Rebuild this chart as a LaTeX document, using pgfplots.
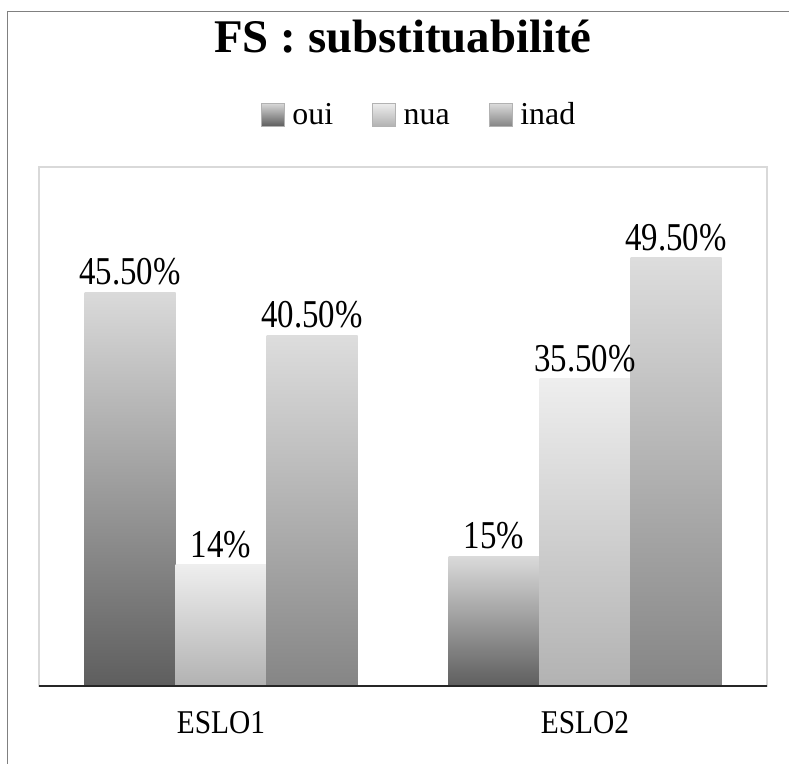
\documentclass[border=0pt]{standalone}
\usepackage{fontspec}
\setmainfont{Liberation Serif}
\usepackage{pgfplots}
\pgfplotsset{compat=1.18}

\definecolor{ouitop}{HTML}{DADADA}
\definecolor{ouibot}{HTML}{5E5E5E}
\definecolor{nuatop}{HTML}{EEEEEE}
\definecolor{nuabot}{HTML}{B2B2B2}
\definecolor{inadtop}{HTML}{DDDDDD}
\definecolor{inadbot}{HTML}{858585}
\definecolor{framegray}{HTML}{D9D9D9}

\begin{document}
\begin{tikzpicture}[x=1bp,y=1bp]
\path[use as bounding box] (0,0) rectangle (789,764);
\draw[gray, line width=1.2bp] (7.5,0) -- (7.5,752.5) -- (789,752.5);
\node[anchor=base, font=\fontsize{47}{56}\selectfont\bfseries] at (403,711) {FS : substituabilité};
\begin{axis}[
  at={(39bp,78bp)}, anchor=south west,
  scale only axis, width=728bp, height=519bp,
  xmin=-0.5, xmax=1.5, ymin=0, ymax=60,
  ybar=0pt, bar width=91bp,
  axis line style={framegray, line width=1.2bp},
  xtick={0,1},
  xticklabels={\scalebox{1}[1.13]{ESLO1},\scalebox{1}[1.13]{ESLO2}},
  ytick=\empty,
  major tick length=0pt,
  xticklabel style={font=\fontsize{29.5}{35}\selectfont, inner sep=0pt, anchor=north},
  xticklabel shift=25bp,
  nodes near coords={\scalebox{1}[1.2]{\pgfplotspointmeta}},
  point meta=explicit symbolic,
  every node near coord/.append style={font=\fontsize{33}{38}\selectfont, inner sep=0pt, anchor=south, yshift=7bp, text=black},
  legend columns=3,
  legend style={at={(0.522,1.103)}, anchor=center, draw=none, fill=none,
    font=\fontsize{32}{38}\selectfont, column sep=6bp,
    nodes={text height=26bp, text depth=5bp},
    /tikz/every even column/.append style={column sep=37bp}},
  legend image code/.code={%
    \path (0bp,-30bp) rectangle (0bp,30bp);
    \path[#1, draw=gray!60, line width=0.6bp] (0bp,-12.5bp) rectangle (23bp,10.5bp);},
  clip=false,
]
% ESLO1 (one plot per bar so that each bar gets its own gradient)
\addplot[draw=none, bar shift=-91bp, top color=ouitop, bottom color=ouibot]
  coordinates {(0,45.5) [45.50\%]};
\addlegendentry{oui}
\addplot[draw=none, bar shift=0bp, top color=nuatop, bottom color=nuabot]
  coordinates {(0,14) [14\%]};
\addlegendentry{nua}
\addplot[draw=none, bar shift=91bp, top color=inadtop, bottom color=inadbot]
  coordinates {(0,40.5) [40.50\%]};
\addlegendentry{inad}
% ESLO2
\addplot[forget plot, draw=none, bar shift=-91bp, top color=ouitop, bottom color=ouibot]
  coordinates {(1,15) [15\%]};
\addplot[forget plot, draw=none, bar shift=0bp, top color=nuatop, bottom color=nuabot]
  coordinates {(1,35.5) [35.50\%]};
\addplot[forget plot, draw=none, bar shift=91bp, top color=inadtop, bottom color=inadbot]
  coordinates {(1,49.5) [49.50\%]};
\draw[black!85, line width=2bp] (axis cs:-0.5,0) -- (axis cs:1.5,0);
\end{axis}
\end{tikzpicture}
\end{document}
